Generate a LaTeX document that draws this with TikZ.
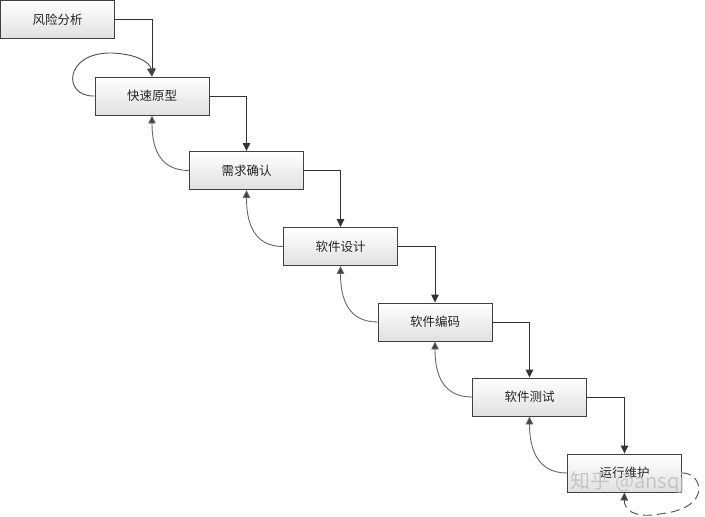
\documentclass[tikz,border=0pt]{standalone}
\usepackage{fontspec}
\newfontfamily\cjk{Noto Sans CJK SC}
\usetikzlibrary{arrows.meta}
\begin{document}
\begin{tikzpicture}[x=1pt,y=-1pt,
  stagebox/.style={draw=black!75, line width=0.9pt, minimum width=114pt, minimum height=38pt,
    top color=white, bottom color=black!12, inner sep=0pt,
    font=\cjk\fontsize{12.5}{14}\selectfont, text=black!85},
  conn/.style={draw=black!80, line width=0.9pt, -{Triangle[length=8pt,width=7.5pt]}},
  fb/.style={draw=black!60, line width=0.9pt, -{Triangle[length=8pt,width=7.5pt,fill=black!75]}},
  loop/.style={draw=black!70, line width=0.9pt, -{Triangle[length=8pt,width=7.5pt,fill=black!75]}}
]
\useasboundingbox (0,0) rectangle (705,517);
\node[stagebox] (b1) at (57.5,19.5) {风险分析};
\node[stagebox] (b2) at (152,96) {快速原型};
\node[stagebox] (b3) at (246.5,170.5) {需求确认};
\node[stagebox] (b4) at (340.5,246.5) {软件设计};
\node[stagebox] (b5) at (435,322) {软件编码};
\node[stagebox] (b6) at (529.5,397) {软件测试};
\node[stagebox] (b7) at (624.5,473) {运行维护};
% forward connectors
\draw[conn] (b1.east) -| (b2.north);
\draw[conn] (b2.east) -| (b3.north);
\draw[conn] (b3.east) -| (b4.north);
\draw[conn] (b4.east) -| (b5.north);
\draw[conn] (b5.east) -| (b6.north);
\draw[conn] (b6.east) -| (b7.north);
% feedback connectors
\draw[fb] (b3.west) .. controls +(-30,0) and +(0,32) .. (b2.south);
\draw[fb] (b4.west) .. controls +(-30,0) and +(0,32) .. (b3.south);
\draw[fb] (b5.west) .. controls +(-30,0) and +(0,32) .. (b4.south);
\draw[fb] (b6.west) .. controls +(-30,0) and +(0,32) .. (b5.south);
\draw[fb] (b7.west) .. controls +(-30,0) and +(0,32) .. (b6.south);
% self loop on prototype
\coordinate (lp) at (112,53);
\draw[loop] (b2.west) .. controls (62,97) and (64,52) .. (lp) .. controls (136,54) and (150,62) .. (b2.north);
% dashed loop on maintenance
\coordinate (dl) at (660,514);
\draw[loop, dash pattern=on 9pt off 5pt] (b7.east) .. controls (702,472) and (714,508) .. (dl) .. controls (632,519) and (624,508) .. (b7.south);
% watermark
\node[text=black!25, opacity=0.85, font=\cjk\fontsize{20}{21}\selectfont] (wm) at (628,483) {知乎 @ansqj};
\end{tikzpicture}
\end{document}
